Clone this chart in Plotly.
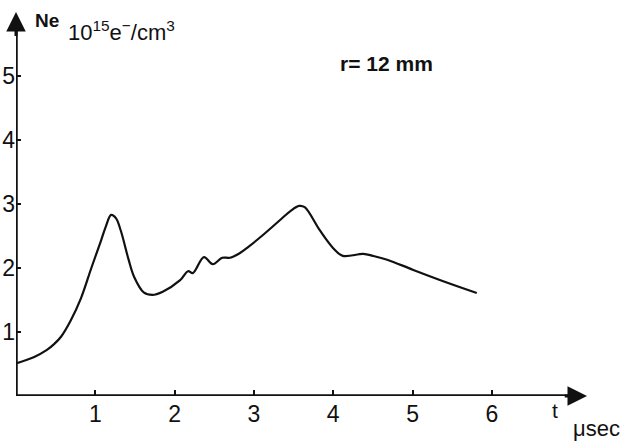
import plotly.graph_objects as go

# Data (t in µs, Ne in 10^15 e-/cm^3)
t_us = [0.0, 0.23, 0.39, 0.48, 0.57, 0.69, 0.82, 0.95, 1.07, 1.13, 1.20, 1.26, 1.32,
        1.42, 1.49, 1.61, 1.72, 1.85, 2.07, 2.17, 2.23, 2.37, 2.48, 2.60,
        2.70, 2.82, 2.93, 3.08, 3.33, 3.46, 3.57, 3.64, 3.83, 4.00, 4.12, 4.38,
        4.50, 4.68, 5.01, 5.44, 5.81]
ne = [0.51, 0.61, 0.72, 0.81, 0.93, 1.18, 1.53, 2.00, 2.42, 2.64, 2.83, 2.78, 2.59,
      2.13, 1.86, 1.62, 1.58, 1.63, 1.81, 1.95, 1.92, 2.17, 2.06, 2.16,
      2.16, 2.23, 2.33, 2.48, 2.75, 2.89, 2.97, 2.95, 2.59, 2.31, 2.19, 2.22,
      2.19, 2.13, 1.97, 1.77, 1.61]

x_ticks = [1, 2, 3, 4, 5, 6]
y_ticks = [1, 2, 3, 4, 5]

FONT = "Liberation Sans Narrow, Liberation Sans, Arial, sans-serif"
INK = "#111111"
XMAX, YMAX = 7.2, 6.0

fig = go.Figure()
fig.add_trace(go.Scatter(
    x=t_us, y=ne, mode="lines",
    line=dict(color=INK, width=2.2, shape="spline", smoothing=1.0),
    hoverinfo="skip", showlegend=False, cliponaxis=False,
))

# Axis lines
fig.add_shape(type="line", x0=0, y0=0, x1=XMAX - 0.1, y1=0, xref="x", yref="y",
              line=dict(color=INK, width=3.5), layer="above")
fig.add_shape(type="line", x0=0, y0=-0.02, x1=0, y1=YMAX - 0.1, xref="x", yref="y",
              line=dict(color=INK, width=3.5), layer="above")
# Arrowheads
fig.add_annotation(x=XMAX, y=0, ax=XMAX - 0.3, ay=0, xref="x", yref="y", axref="x", ayref="y",
                   showarrow=True, arrowhead=2, arrowsize=1.3, arrowwidth=3,
                   arrowcolor=INK, text="")
fig.add_annotation(x=0, y=YMAX, ax=0, ay=YMAX - 0.4, xref="x", yref="y", axref="x", ayref="y",
                   showarrow=True, arrowhead=2, arrowsize=1.3, arrowwidth=3,
                   arrowcolor=INK, text="")


def px_note(px, py, text, size):
    fig.add_annotation(x=(px - 16) / 571, y=(396 - py) / 384, xref="paper", yref="paper",
                       xanchor="center", yanchor="middle", text=text, showarrow=False,
                       font=dict(family=FONT, size=size, color=INK))


px_note(47, 20, "<b>Ne</b>", 19)
px_note(121, 31, "10<sup>15</sup>e<sup>−</sup>/cm<sup>3</sup>", 22)
px_note(386, 64, "<b>r= 12 mm</b>", 21)
px_note(555, 410, "t", 21)
px_note(596, 428, "μsec", 22)

fig.update_layout(
    width=629, height=443,
    margin=dict(l=16, r=42, t=12, b=47),
    paper_bgcolor="white", plot_bgcolor="white",
    xaxis=dict(range=[0, XMAX], showgrid=False, zeroline=False, showline=False,
               tickvals=x_ticks, ticktext=[str(v) for v in x_ticks],
               ticks="inside", ticklen=6, tickwidth=1.5, tickcolor=INK,
               ticklabelstandoff=2,
               tickfont=dict(family=FONT, size=23, color=INK), automargin=False),
    yaxis=dict(range=[0, YMAX], showgrid=False, zeroline=False, showline=False,
               tickvals=y_ticks, ticktext=[str(v) for v in y_ticks],
               ticks="inside", ticklen=5, tickwidth=1.5, tickcolor=INK,
               ticklabelstandoff=0,
               tickfont=dict(family=FONT, size=23, color=INK), automargin=False),
)

fig.write_html("out.html")
